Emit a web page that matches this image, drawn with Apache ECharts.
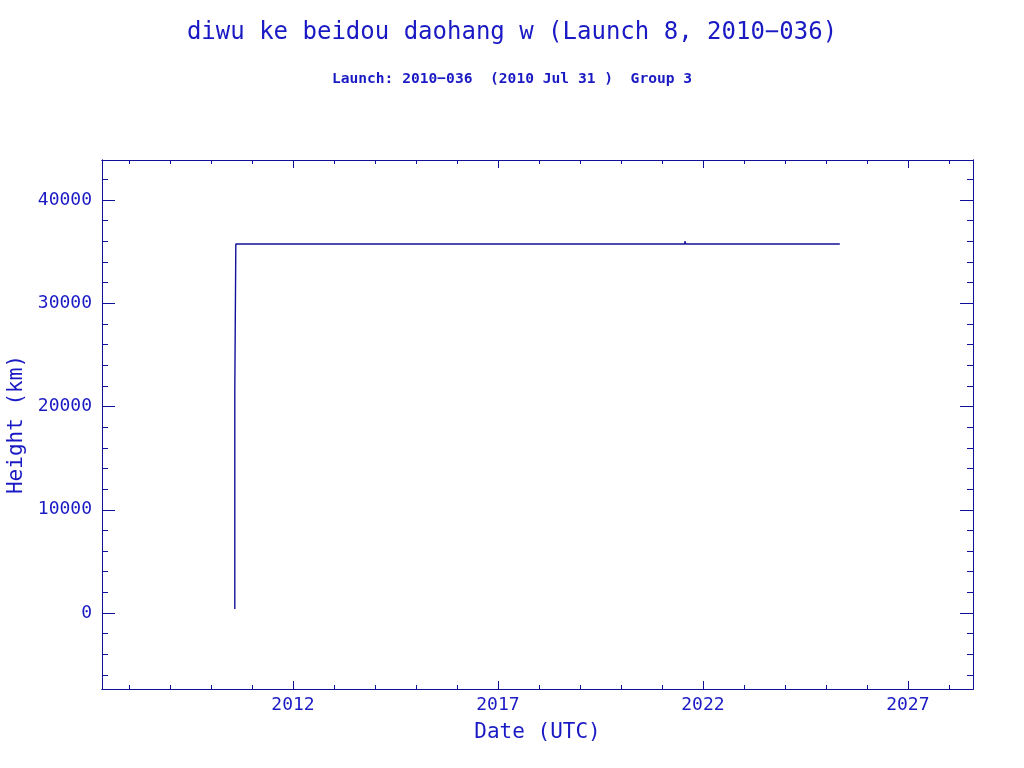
<!DOCTYPE html>
<html>
<head>
<meta charset="utf-8">
<script src="https://cdn.jsdelivr.net/npm/echarts@6/dist/echarts.min.js"></script>
<style>html,body{margin:0;padding:0;background:#fff;}#c{width:1024px;height:768px;}</style>
</head>
<body>
<div id="c"></div>
<script>
// Data (decimal year, height km)
const dates   = [2010.58, 2010.58, 2010.605, 2010.605, 2021.56, 2021.56, 2021.585, 2021.585, 2025.34];
const heights = [390,     21600,   21600,    35740,    35740,   36000,   36000,    35740,    35740];
const xMajorTicks = [2012, 2017, 2022, 2027];
const xMinorTicks = [2008,2009,2010,2011,2013,2014,2015,2016,2018,2019,2020,2021,2023,2024,2025,2026,2028];
const yMajorTicks = [0, 10000, 20000, 30000, 40000];
const yMinorTicks = [-6000,-4000,-2000,2000,4000,6000,8000,12000,14000,16000,18000,22000,24000,26000,28000,32000,34000,36000,38000,42000];
const titleText = 'diwu ke beidou daohang w (Launch 8, 2010\u2212036)';
const subtitleText = 'Launch: 2010\u2212036  (2010 Jul 31 )  Group 3';

const C = '#10109a';
const TXT = '#1a1ac4';
const XMIN = 2007.34, XMAX = 2028.59, YMIN = -7360, YMAX = 43880;
const font = 'DejaVu Sans Mono';

function xAx(pos, ticks, len, opts) {
  return Object.assign({
    type: 'value', min: XMIN, max: XMAX, position: pos,
    axisLine: {show: true, onZero: false, lineStyle: {color: C, width: 1}},
    axisTick: {show: true, inside: true, length: len, customValues: ticks, lineStyle: {color: C}},
    axisLabel: {show: false},
    splitLine: {show: false}
  }, opts || {});
}
function yAx(pos, ticks, len, opts) {
  return Object.assign({
    type: 'value', min: YMIN, max: YMAX, position: pos,
    axisLine: {show: true, onZero: false, lineStyle: {color: C, width: 1}},
    axisTick: {show: true, inside: true, length: len, customValues: ticks, lineStyle: {color: C}},
    axisLabel: {show: false},
    splitLine: {show: false}
  }, opts || {});
}

const chart = echarts.init(document.getElementById('c'), null, {renderer: 'canvas'});
chart.setOption({
  backgroundColor: '#fff',
  animation: false,
  title: [
    {text: titleText, left: 'center', top: 16, textStyle: {fontFamily: font, fontSize: 24, fontWeight: 'normal', color: TXT}},
    {text: subtitleText, left: 'center', top: 67, textStyle: {fontFamily: font, fontSize: 14.6, fontWeight: 'bold', color: TXT}}
  ],
  grid: {left: 102, right: 51, top: 160, bottom: 79, containLabel: false, outerBoundsMode: 'none'},
  xAxis: [
    xAx('bottom', xMajorTicks, 8, {
      name: 'Date (UTC)', nameLocation: 'middle', nameGap: 33,
      nameTextStyle: {fontFamily: font, fontSize: 21, color: TXT},
      axisLabel: {show: true, customValues: xMajorTicks, margin: 7, fontFamily: font, fontSize: 18, color: TXT, formatter: v => String(Math.round(v))}
    }),
    xAx('bottom', xMinorTicks, 4),
    xAx('top', xMajorTicks, 8),
    xAx('top', xMinorTicks, 4)
  ],
  yAxis: [
    yAx('left', yMajorTicks, 13, {
      name: 'Height (km)', nameLocation: 'middle', nameGap: 75, nameRotate: 90,
      nameTextStyle: {fontFamily: font, fontSize: 21, color: TXT},
      axisLabel: {show: true, customValues: yMajorTicks, margin: 10, fontFamily: font, fontSize: 18, color: TXT, formatter: v => String(Math.round(v))}
    }),
    yAx('left', yMinorTicks, 6),
    yAx('right', yMajorTicks, 13),
    yAx('right', yMinorTicks, 6)
  ],
  series: [{
    type: 'line',
    xAxisIndex: 0, yAxisIndex: 0,
    data: dates.map((d, i) => [d, heights[i]]),
    showSymbol: false, symbol: 'none',
    lineStyle: {color: C, width: 1.4},
    silent: true
  }]
});
</script>
</body>
</html>
